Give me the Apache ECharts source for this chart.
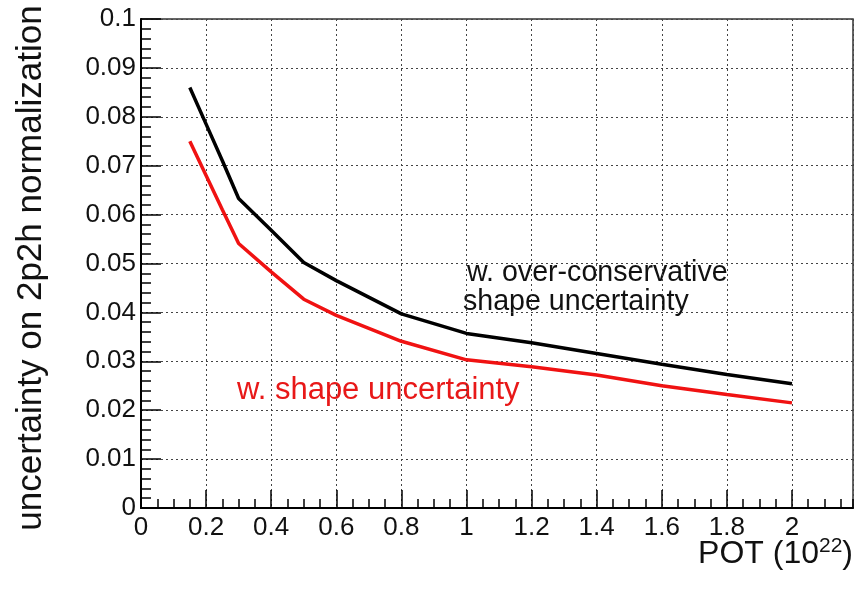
<!DOCTYPE html>
<html>
<head>
<meta charset="utf-8">
<script src="https://cdn.jsdelivr.net/npm/echarts@6/dist/echarts.min.js"></script>
<style>
  html, body { margin: 0; padding: 0; background: #ffffff; }
  #chart { width: 856px; height: 590px; }
</style>
</head>
<body>
<div id="chart"></div>
<script>
// Protons on target, in units of 1e22
const pot = [0.15, 0.2, 0.25, 0.3, 0.4, 0.5, 0.6, 0.8, 1.0, 1.2, 1.4, 1.6, 1.8, 2.0];
// Uncertainty on the 2p2h normalization with an over-conservative shape uncertainty
const overConservative = [0.0860, 0.0785, 0.0710, 0.0633, 0.0568, 0.0502, 0.0465, 0.0397, 0.0357, 0.0338, 0.0316, 0.0294, 0.0273, 0.0254];
// Uncertainty on the 2p2h normalization with the nominal shape uncertainty
const shapeOnly = [0.0750, 0.0680, 0.0610, 0.0541, 0.0483, 0.0427, 0.0394, 0.0341, 0.0303, 0.0289, 0.0272, 0.0250, 0.0232, 0.0215];

const FONT = '"Liberation Sans", Arial, Helvetica, sans-serif';
const X_MAX = 2.1875;

const chart = echarts.init(document.getElementById('chart'), null, { renderer: 'canvas' });

const gridDots = { color: '#444', width: 1, type: [2, 3] };

chart.setOption({
  animation: false,
  backgroundColor: '#ffffff',
  grid: {
    left: 141, top: 19, width: 712, height: 489,
    containLabel: false, outerBoundsMode: 'none',
    show: true, borderColor: '#333', borderWidth: 1.5, backgroundColor: 'transparent'
  },
  xAxis: [
    {
      type: 'value', min: 0, max: X_MAX, interval: 0.2, position: 'bottom',
      axisLine: { show: true, onZero: false, lineStyle: { color: '#000', width: 2 } },
      axisTick: { show: true, inside: true, length: 18, lineStyle: { color: '#000', width: 1.5 } },
      axisLabel: { show: true, showMaxLabel: false, margin: 7, color: '#111', fontSize: 26, fontFamily: FONT },
      splitLine: { show: true, lineStyle: gridDots }
    },
    {
      // finer tick marks every 0.05
      type: 'value', min: 0, max: X_MAX, interval: 0.05, position: 'bottom',
      axisLine: { show: false },
      axisTick: { show: true, inside: true, length: 9, lineStyle: { color: '#000', width: 1.5 } },
      axisLabel: { show: false },
      splitLine: { show: false }
    }
  ],
  yAxis: {
    type: 'value', min: 0, max: 0.1, interval: 0.01,
    axisLine: { show: true, onZero: false, lineStyle: { color: '#000', width: 2 } },
    axisTick: { show: true, inside: true, length: 20, lineStyle: { color: '#000', width: 1.5 } },
    minorTick: { show: true, splitNumber: 5, length: 10, lineStyle: { color: '#000', width: 1.5 } },
    axisLabel: { show: true, margin: 5, color: '#111', fontSize: 26, fontFamily: FONT },
    splitLine: { show: true, lineStyle: gridDots }
  },
  series: [
    {
      name: 'w. over-conservative shape uncertainty',
      type: 'line', xAxisIndex: 0,
      data: pot.map((p, i) => [p, overConservative[i]]),
      showSymbol: false, smooth: false,
      lineStyle: { color: '#000000', width: 3.5 },
      z: 5
    },
    {
      name: 'w. shape uncertainty',
      type: 'line', xAxisIndex: 0,
      data: pot.map((p, i) => [p, shapeOnly[i]]),
      showSymbol: false, smooth: false,
      lineStyle: { color: '#f01212', width: 3.5 },
      z: 5
    }
  ],
  graphic: [
    {
      type: 'text', x: 31, y: 268, rotation: Math.PI / 2,
      style: {
        text: 'uncertainty on 2p2h normalization',
        font: '35px ' + FONT, fill: '#111',
        align: 'center', verticalAlign: 'middle'
      }
    },
    {
      type: 'text', x: 853, y: 554,
      style: {
        text: '{b|POT (10}{s|22}{b|)}',
        align: 'right', verticalAlign: 'middle',
        rich: {
          b: { fontSize: 32, fontFamily: FONT, fill: '#111', lineHeight: 36 },
          s: { fontSize: 21, fontFamily: FONT, fill: '#111', verticalAlign: 'top', lineHeight: 36 }
        }
      }
    },
    {
      type: 'text', x: 467, y: 273,
      style: { text: 'w. over-conservative', font: '28.6px ' + FONT, fill: '#111', align: 'left', verticalAlign: 'middle' }
    },
    {
      type: 'text', x: 463, y: 302,
      style: { text: 'shape uncertainty', font: '28.6px ' + FONT, fill: '#111', align: 'left', verticalAlign: 'middle' }
    },
    {
      type: 'text', x: 237, y: 390,
      style: { text: 'w. shape uncertainty', font: '31px ' + FONT, fill: '#e81818', align: 'left', verticalAlign: 'middle' }
    }
  ]
});
</script>
</body>
</html>
